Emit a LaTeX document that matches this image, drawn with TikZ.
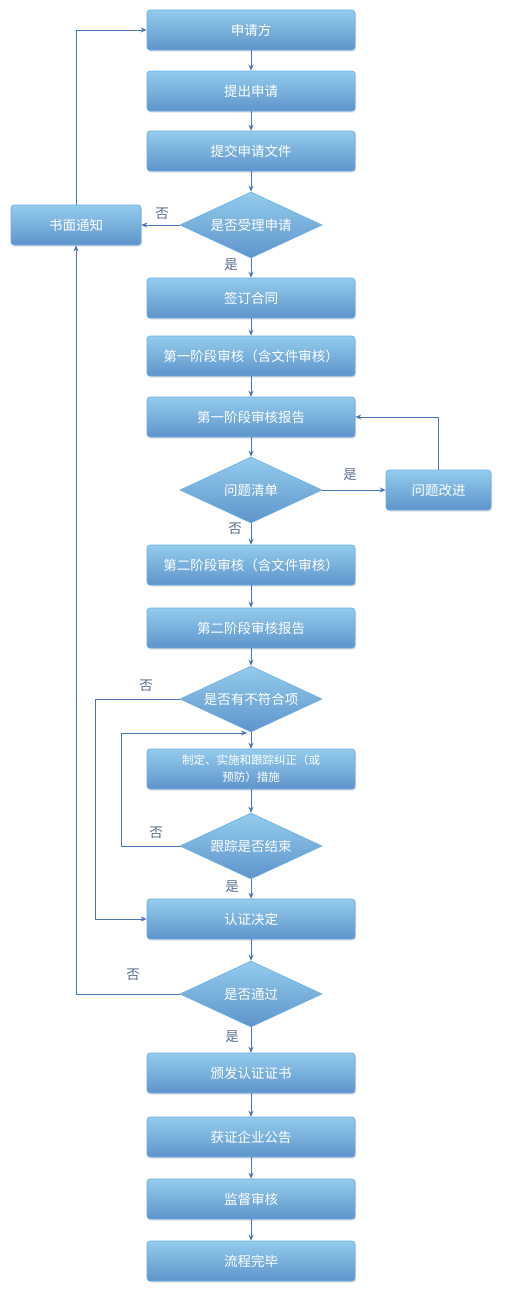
\documentclass[tikz,border=0pt]{standalone}
\usepackage{fontspec}
\setmainfont{Noto Sans CJK SC}
\usetikzlibrary{shapes.geometric,arrows.meta,shadows}
\definecolor{boxtop}{HTML}{93CCEC}
\definecolor{boxbot}{HTML}{5E94CB}
\definecolor{boxedge}{HTML}{66AEEA}
\definecolor{linec}{HTML}{4A75BA}
\definecolor{labc}{HTML}{5A6C90}
\begin{document}
\begin{tikzpicture}[x=1pt,y=-1pt,
  box/.style={rectangle, rounded corners=3pt, minimum width=208pt, minimum height=40pt,
    top color=boxtop, bottom color=boxbot, draw=boxedge, line width=0.6pt, text=white,
    font=\fontsize{13.5}{15}\selectfont, inner sep=0pt, align=center,
    drop shadow={shadow xshift=1pt,shadow yshift=-1.5pt,opacity=0.25}},
  dia/.style={diamond, aspect=2.15, minimum width=142pt, minimum height=66pt, inner sep=0pt,
    top color=boxtop, bottom color=boxbot, draw=boxedge, line width=0.6pt, text=white,
    font=\fontsize{13.5}{15}\selectfont},
  arr/.style={draw=linec, line width=1pt, -{Stealth[length=6pt,width=5pt]}},
  lab/.style={text=labc, font=\fontsize{13.5}{15}\selectfont, inner sep=0pt}
]
\useasboundingbox[fill=white] (0,0) rectangle (508,1296);

\node[box] (a1) at (251,30) {申请方};
\node[box] (a2) at (251,91) {提出申请};
\node[box] (a3) at (251,151) {提交申请文件};
\node[dia] (d1) at (251,225) {是否受理申请};
\node[box, minimum width=130pt] (nt) at (76,225) {书面通知};
\node[box] (a4) at (251,298) {签订合同};
\node[box] (a5) at (251,356) {第一阶段审核（含文件审核）};
\node[box] (a6) at (251,417) {第一阶段审核报告};
\node[dia] (d2) at (251,490) {问题清单};
\node[box, minimum width=105pt] (fx) at (438.5,490) {问题改进};
\node[box] (a7) at (251,565) {第二阶段审核（含文件审核）};
\node[box] (a8) at (251,628) {第二阶段审核报告};
\node[dia] (d3) at (251,699) {是否有不符合项};
\node[box, font=\fontsize{11.5}{17}\selectfont] (a9) at (251,769) {制定、实施和跟踪纠正（或\\预防）措施};
\node[dia] (d4) at (251,846) {跟踪是否结束};
\node[box] (a10) at (251,919) {认证决定};
\node[dia] (d5) at (251,994) {是否通过};
\node[box] (a11) at (251,1073) {颁发认证证书};
\node[box] (a12) at (251,1137) {获证企业公告};
\node[box] (a13) at (251,1199) {监督审核};
\node[box] (a14) at (251,1261) {流程完毕};

\coordinate (jn) at (247,733);

\draw[arr] (a1) -- (a2);
\draw[arr] (a2) -- (a3);
\draw[arr] (a3) -- (d1);
\draw[arr] (d1) -- (a4);
\draw[arr] (d1.west) -- (nt.east);
\draw[arr] (nt.north) |- (a1.west);
\draw[arr] (a4) -- (a5);
\draw[arr] (a5) -- (a6);
\draw[arr] (a6) -- (d2);
\draw[arr] (d2.east) -- (fx.west);
\draw[arr] (fx.north) |- (a6.east);
\draw[arr] (d2) -- (a7);
\draw[arr] (a7) -- (a8);
\draw[arr] (a8) -- (d3);
\draw[arr] (d3) -- (a9);
\draw[arr] (d3.west) -- ++(-84,0) |- (a10.west);
\draw[arr] (a9) -- (d4);
\draw[arr] (d4.west) -- ++(-58,0) |- (jn);
\draw[arr] (d4) -- (a10);
\draw[arr] (a10) -- (d5);
\draw[arr] (d5.west) -| (nt.south);
\draw[arr] (d5) -- (a11);
\draw[arr] (a11) -- (a12);
\draw[arr] (a12) -- (a13);
\draw[arr] (a13) -- (a14);

\node[lab] (l1) at (162,214) {否};
\node[lab] (l2) at (231,265) {是};
\node[lab] (l3) at (350,475) {是};
\node[lab] (l4) at (235,529) {否};
\node[lab] (l5) at (146,686) {否};
\node[lab] (l6) at (156,833) {否};
\node[lab] (l7) at (232,887) {是};
\node[lab] (l8) at (133,975) {否};
\node[lab] (l9) at (232,1037) {是};
\end{tikzpicture}
\end{document}
